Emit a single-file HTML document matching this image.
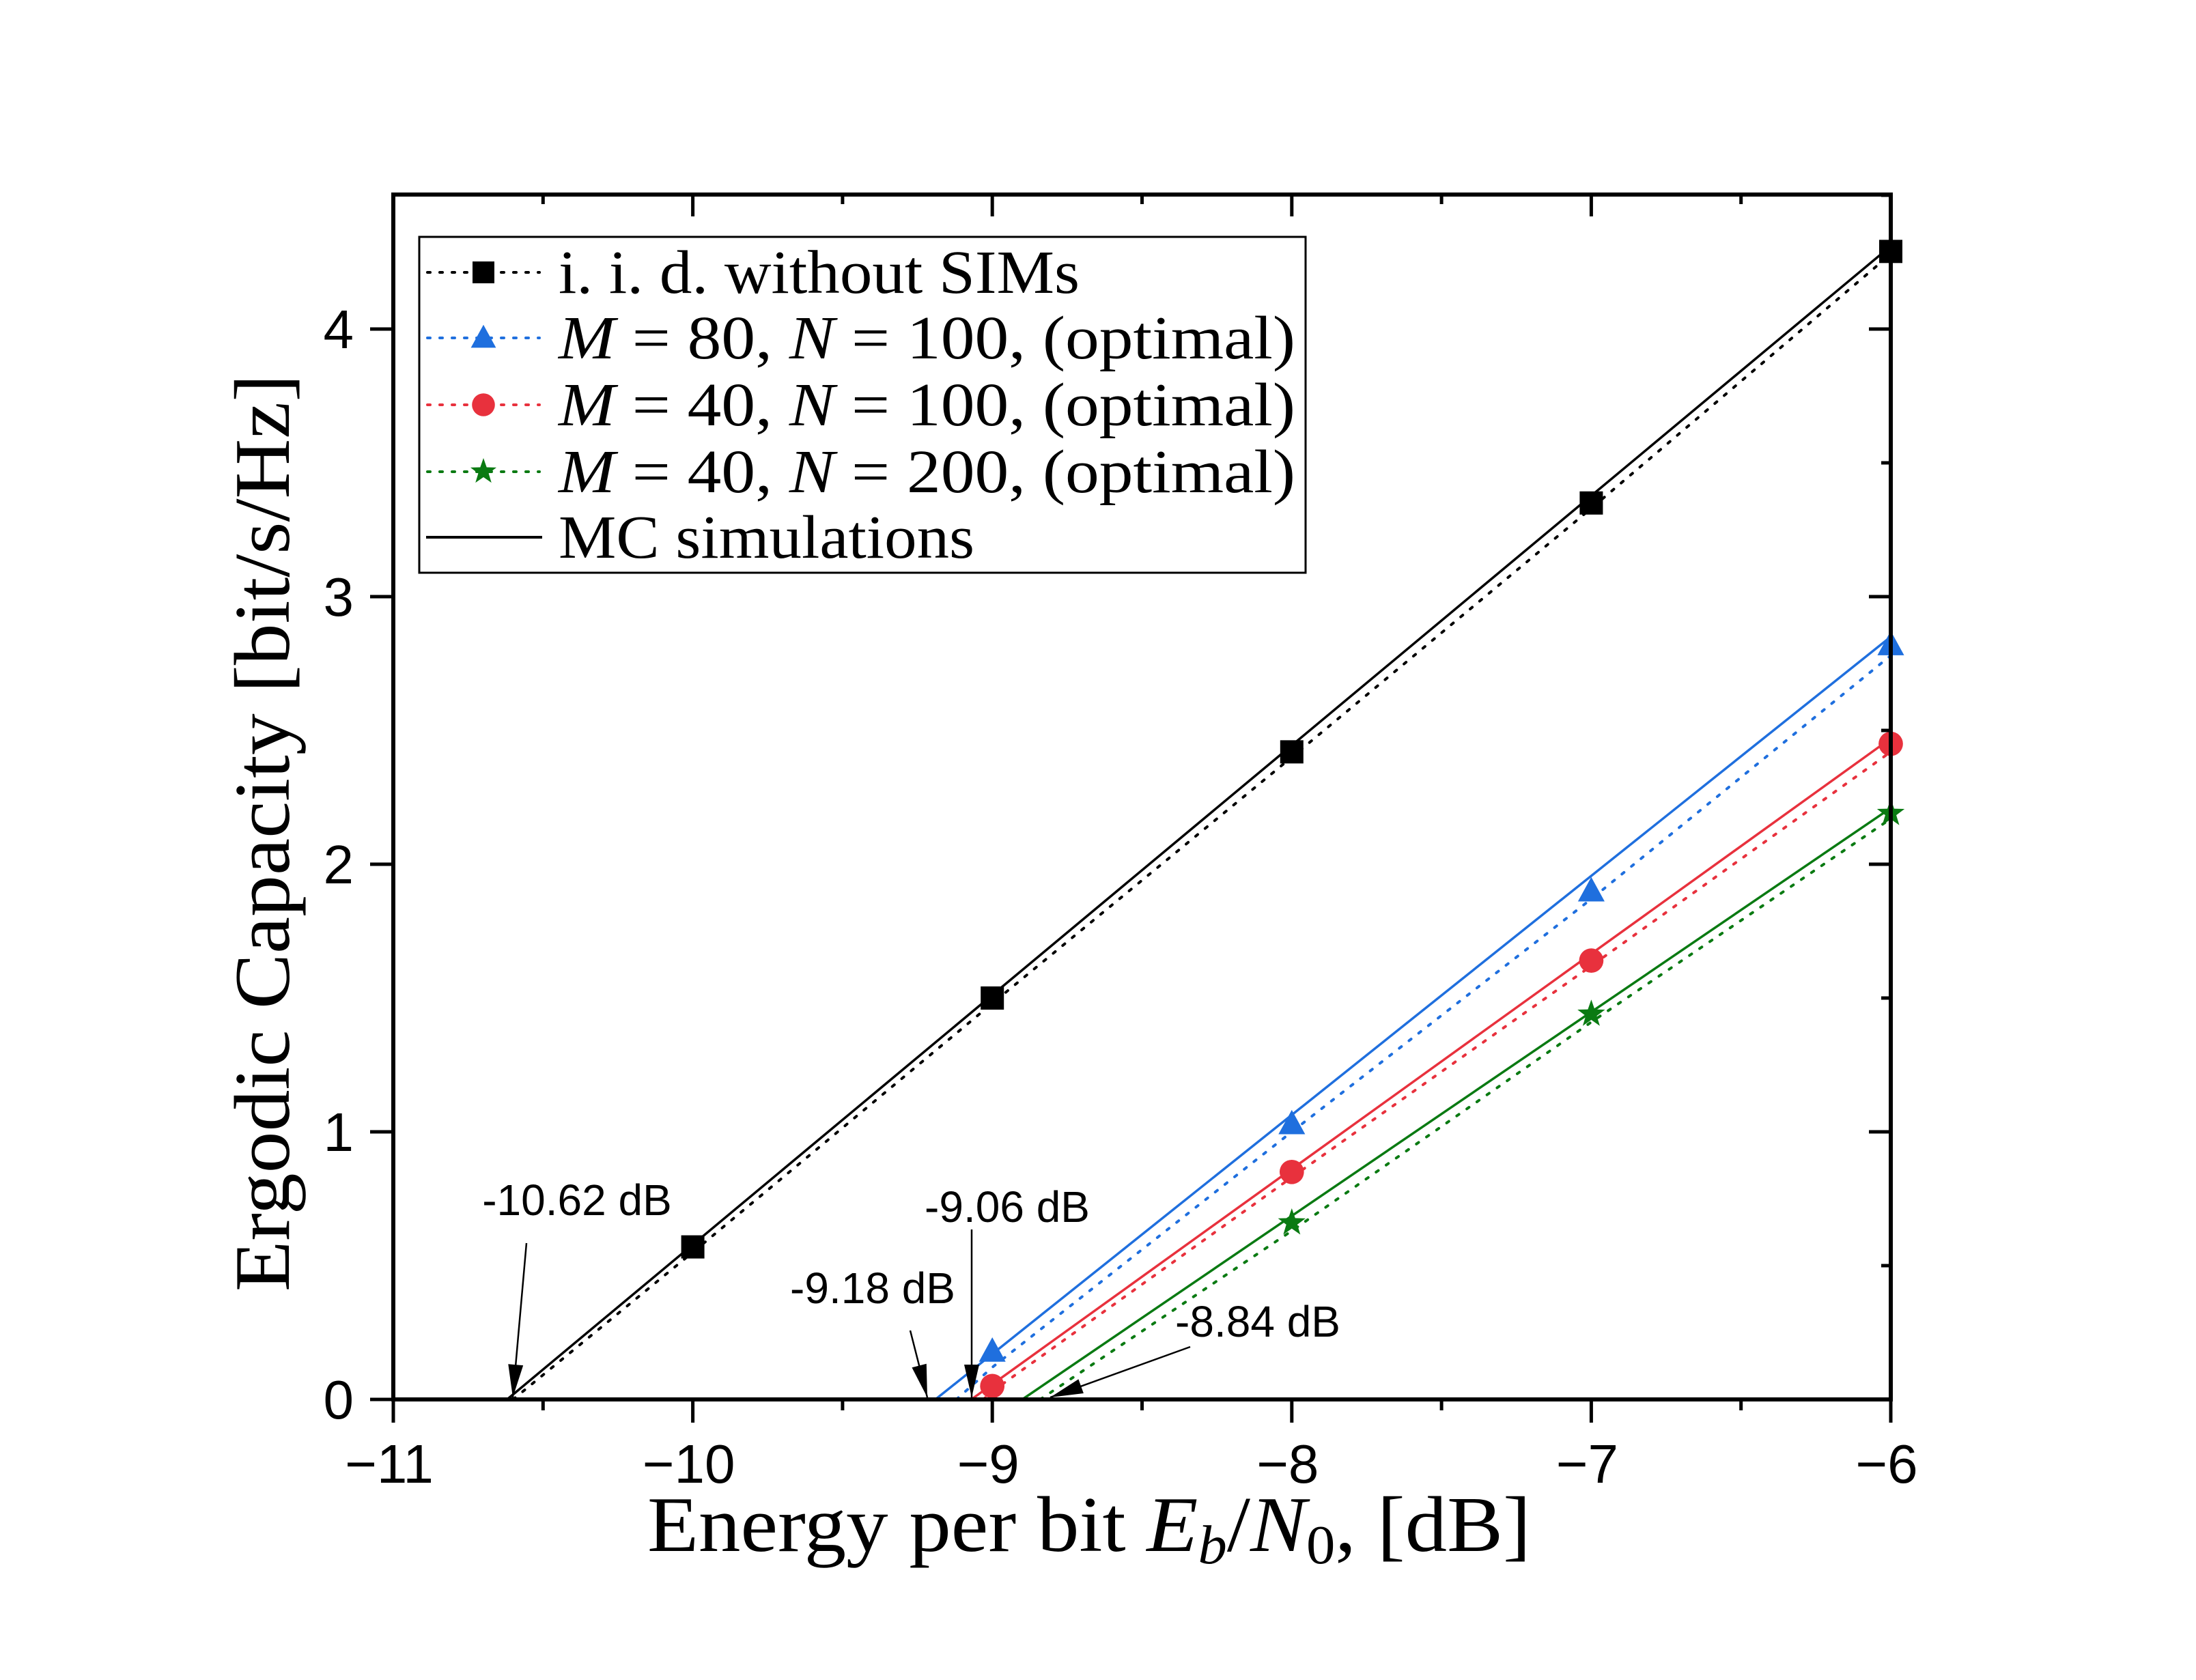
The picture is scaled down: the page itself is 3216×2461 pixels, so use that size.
<!DOCTYPE html>
<html><head><meta charset="utf-8"><style>
html,body{margin:0;padding:0;background:#fff;}
svg{display:block;}
text{font-family:"Liberation Sans",sans-serif;}
.serif{font-family:"Liberation Serif",serif;}
</style></head><body>
<svg id="chart" width="3216" height="2461" viewBox="0 0 3216 2461" xmlns="http://www.w3.org/2000/svg">
<g id="plot"></g>
</svg>
<script>
const xTicks=[-11,-10,-9,-8,-7,-6];
const yTicks=[0,1,2,3,4];
const seriesNames=['iid','m80n100','m40n100','m40n200'];
const colors=['#000000','#1f6fde','#e8313d','#0a7a12'];
// analytical (dotted) curves
const iidX=[-10.6,-10,-9,-8,-7,-6];
const iidY=[0,0.55,1.48,2.40,3.33,4.28];
const b80X=[-9.12,-9,-8,-7,-6];
const b80Y=[0,0.12,1.00,1.87,2.78];
const r40X=[-9.03,-9,-8,-7,-6];
const r40Y=[0,0.03,0.83,1.62,2.42];
const g200X=[-8.84,-8,-7,-6];
const g200Y=[0,0.63,1.41,2.17];
// MC simulation (solid) curves
const mcIidX=[-10.62,-6];
const mcIidY=[0,4.31];
const mcB80X=[-9.19,-6];
const mcB80Y=[0,2.85];
const mcR40X=[-9.07,-6];
const mcR40Y=[0,2.47];
const mcG200X=[-8.9,-6];
const mcG200Y=[0,2.21];
// markers
const mkIidX=[-10,-9,-8,-7,-6];
const mkIidY=[0.57,1.50,2.42,3.35,4.29];
const mkB80X=[-9,-8,-7,-6];
const mkB80Y=[0.18,1.03,1.90,2.82];
const mkR40X=[-9,-8,-7,-6];
const mkR40Y=[0.05,0.85,1.64,2.45];
const mkG200X=[-8,-7,-6];
const mkG200Y=[0.66,1.44,2.19];

const L=576,R=2769,T=285,B=2050;
const X=v=>L+(v+11)/5*(R-L);
const Y=v=>B-v*392;
const NS='http://www.w3.org/2000/svg';
const g=document.getElementById('plot');
function mk(t,a,p){const e=document.createElementNS(NS,t);for(const k in a)e.setAttribute(k,a[k]);(p||g).appendChild(e);return e;}

const dotted=[[iidX,iidY],[b80X,b80Y],[r40X,r40Y],[g200X,g200Y]];
const solid=[[mcIidX,mcIidY],[mcB80X,mcB80Y],[mcR40X,mcR40Y],[mcG200X,mcG200Y]];
const marks=[[mkIidX,mkIidY],[mkB80X,mkB80Y],[mkR40X,mkR40Y],[mkG200X,mkG200Y]];
for(let s=0;s<4;s++){
  const d=dotted[s][0].map((x,i)=>X(x)+','+Y(dotted[s][1][i])).join(' ');
  const p1=mk('polyline',{points:d,fill:'none',stroke:colors[s],'stroke-width':4,'stroke-dasharray':'4 14','stroke-linecap':'round'});
  
  
  const d2=solid[s][0].map((x,i)=>X(x)+','+Y(solid[s][1][i])).join(' ');
  const p2=mk('polyline',{points:d2,fill:'none',stroke:colors[s],'stroke-width':3.5});
  
  
}
function marker(s,cx,cy,sz,parent){
  let e;
  if(s===0)e=mk('rect',{x:cx-sz,y:cy-sz,width:2*sz,height:2*sz,fill:colors[0]},parent);
  else if(s===1)e=mk('polygon',{points:`${cx},${cy-sz*1.2} ${cx-sz*1.15},${cy+sz*0.9} ${cx+sz*1.15},${cy+sz*0.9}`,fill:colors[1]},parent);
  else if(s===2)e=mk('circle',{cx:cx,cy:cy,r:sz*1.05,fill:colors[2]},parent);
  else{let pts=[];for(let k=0;k<10;k++){const r=k%2?sz*0.5:sz*1.25;const a=-Math.PI/2+k*Math.PI/5;pts.push((cx+r*Math.cos(a))+','+(cy+r*Math.sin(a)));}e=mk('polygon',{points:pts.join(' '),fill:colors[3]},parent);}
  return e;
}
for(let s=0;s<4;s++){
  marks[s][0].forEach((x,i)=>{
    const e=marker(s,X(x),Y(marks[s][1][i]),17);
    
    
  });
}

const fr=mk('rect',{x:L,y:T,width:R-L,height:B-T,fill:'none',stroke:'#000','stroke-width':6});


for(let v=-11;v<=-6.01+0.5;v+=0.5){
  const major=Math.abs(v-Math.round(v))<1e-6;
  const len=major?34:16;
  const t1=mk('line',{x1:X(v),x2:X(v),y1:B,y2:B+len,stroke:'#000','stroke-width':5});
  
  
  mk('line',{x1:X(v),x2:X(v),y1:T,y2:T+(major?32:14),stroke:'#000','stroke-width':5});
}
xTicks.forEach(v=>{
  const t=mk('text',{x:X(v)-6,y:2172,'font-size':80,'text-anchor':'middle'});
  t.textContent='\u2212'+Math.abs(v);
  
  
});
for(let v=0;v<=4.5;v+=0.5){
  const major=Math.abs(v-Math.round(v))<1e-6;
  const t1=mk('line',{x1:L-(major?34:0),x2:L,y1:Y(v),y2:Y(v),stroke:'#000','stroke-width':5});
  
  
  mk('line',{x1:R,x2:R-(major?32:14),y1:Y(v),y2:Y(v),stroke:'#000','stroke-width':5});
}
yTicks.forEach(v=>{
  const t=mk('text',{x:518,y:Y(v)+28,'font-size':80,'text-anchor':'end'});
  t.textContent=String(v);
  
  
});
const xt=mk('text',{x:948,y:2272,'font-size':116,textLength:1294,lengthAdjust:'spacingAndGlyphs',class:'serif'});
xt.innerHTML='Energy per bit <tspan font-style="italic">E</tspan><tspan font-style="italic" font-size="80" dy="18">b</tspan><tspan dy="-18">/</tspan><tspan font-style="italic">N</tspan><tspan font-size="80" dy="18">0</tspan><tspan dy="-18">,  [dB]</tspan>';


const yt=mk('text',{x:0,y:0,'font-size':116,textLength:1344,lengthAdjust:'spacingAndGlyphs',class:'serif',transform:'translate(423,1892) rotate(-90)'});
yt.textContent='Ergodic Capacity [bit/s/Hz]';



const lg=mk('g',{});


mk('rect',{x:614,y:347,width:1298,height:492,fill:'#fff',stroke:'#000','stroke-width':3},lg);
const legendLabels=['i. i. d.  without SIMs','<tspan font-style="italic">M</tspan> = 80, <tspan font-style="italic">N</tspan> = 100, (optimal)','<tspan font-style="italic">M</tspan> = 40, <tspan font-style="italic">N</tspan> = 100, (optimal)','<tspan font-style="italic">M</tspan> = 40, <tspan font-style="italic">N</tspan> = 200, (optimal)'];
const legendLens=[763,1079,1079,1079];
const rows=[399,495,593,691];
for(let s=0;s<4;s++){
  const e=mk('g',{},lg);
  
  
  mk('line',{x1:626,x2:790,y1:rows[s],y2:rows[s],stroke:colors[s],'stroke-width':4,'stroke-dasharray':'4 14','stroke-linecap':'round'},e);
  marker(s,708,rows[s],16,e);
  const t=mk('text',{x:818,y:rows[s]+30,'font-size':90,class:'serif',textLength:legendLens[s],lengthAdjust:'spacingAndGlyphs'},e);
  t.innerHTML=legendLabels[s];
}
const e5=mk('g',{},lg);


mk('line',{x1:624,x2:794,y1:787,y2:787,stroke:'#000','stroke-width':4},e5);
const t5=mk('text',{x:818,y:817,'font-size':90,class:'serif',textLength:609,lengthAdjust:'spacingAndGlyphs'},e5);
t5.textContent='MC simulations';

const ann=[['-10.62 dB',845,1780,771,1821,751,2047],['-9.06 dB',1475,1790,1423,1801,1423,2047],['-9.18 dB',1278,1909,1333,1949,1358,2047],['-8.84 dB',1842,1958,1743,1973,1538,2047]];
ann.forEach(a=>{
  const gg=mk('g',{});
  
  
  const t=mk('text',{x:a[1],y:a[2],'font-size':64,'text-anchor':'middle'},gg);
  t.textContent=a[0];
  mk('line',{x1:a[3],y1:a[4],x2:a[5],y2:a[6],stroke:'#000','stroke-width':2.5},gg);
  const dx=a[5]-a[3],dy=a[6]-a[4],l=Math.hypot(dx,dy),ux=dx/l,uy=dy/l;
  const bx=a[5]-ux*48,by=a[6]-uy*48;
  mk('polygon',{points:`${a[5]},${a[6]} ${bx-uy*11},${by+ux*11} ${bx+uy*11},${by-ux*11}`,fill:'#000'},gg);
});
</script>
</body></html>
